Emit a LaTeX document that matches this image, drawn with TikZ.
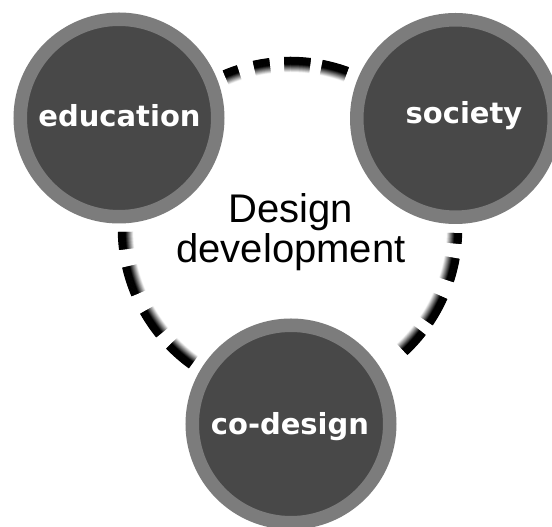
\documentclass[tikz,border=0pt]{standalone}
\usepackage{fontspec}
\setmainfont{Liberation Sans}
\newfontfamily\labelfont{DejaVu Sans}
\definecolor{ringgray}{HTML}{7C7C7C}
\definecolor{coregray}{HTML}{484848}
\begin{document}
\begin{tikzpicture}[x=1pt,y=1pt,
  ring/.style={circle, draw=ringgray, line width=13.5pt, fill=coregray, minimum size=197.5pt, inner sep=0pt},
  lbl/.style={anchor=base, text=white, inner sep=0pt, font=\labelfont\bfseries\fontsize{29}{29}\selectfont},
  mid/.style={anchor=base, inner sep=0pt, text=black, font=\fontsize{40}{40}\selectfont}]
\useasboundingbox (0,0) rectangle (552,527);
\fill[white] (0,0) rectangle (552,527);
\clip (0,0) rectangle (552,527);
\coordinate (c) at (290,298);
% shaded dashes of the ring: black outside, fading to white inside
\foreach \a/\b in {108/113,97/102.5,83/92,70/79,181/187,193/203,209.5/219,224/234,355/358.6,342/350,326/336,313/322} {
  \foreach \k in {0,...,29} {
    \pgfmathsetmacro\R{157.25+0.5*\k}
    \pgfmathsetmacro\p{min(100,(\k+0.5)*6.25)}
    \draw[line width=1pt, black!\p] ([shift={(\a:\R)}]c) arc[start angle=\a, end angle=\b, radius=\R];
  }
}
\node[ring] (edu) at (119,409) {};
\node[ring] (soc) at (455.5,408.5) {};
\node[ring] (cod) at (291,103) {};
\node[lbl] (edut) at (119.5,400) {education};
\node[lbl] (soct) at (464,403) {society};
\node[lbl] (codt) at (290,92) {co-design};
\node[mid] (d1) at (291,304) {Design};
\node[mid] (d2) at (291,264) {development};
\end{tikzpicture}
\end{document}
